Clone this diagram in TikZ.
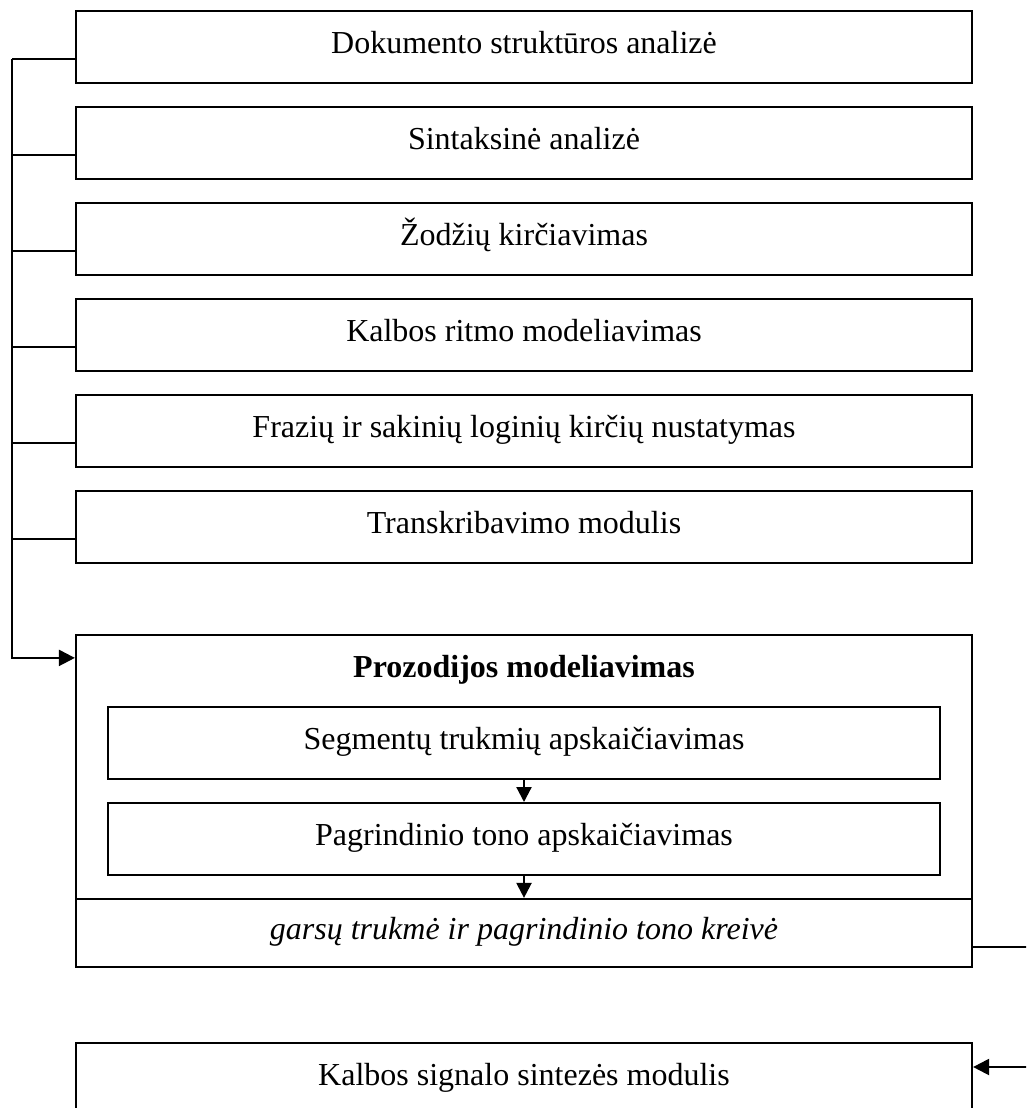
\documentclass[tikz,border=0pt]{standalone}
\usepackage{fontspec}
\setmainfont{Liberation Serif}
\usetikzlibrary{arrows.meta,calc}

\tikzset{
  box/.style={draw, line width=2.2pt, rectangle, inner sep=0pt,
    minimum width=896pt, minimum height=72pt, anchor=center,
    text height=22pt, text depth=10pt,
    font=\fontsize{32}{38}\selectfont},
  inbox/.style={box, line width=2pt, minimum width=832pt},
  wire/.style={draw, line width=2.2pt},
  arr/.style={wire, -{Triangle[length=16pt,width=16pt]}},
  sarr/.style={wire, -{Triangle[length=15pt,width=15pt]}}
}

\begin{document}
\begin{tikzpicture}[x=1pt,y=-1pt]
  \useasboundingbox (0,0) rectangle (1026,1108);
  \clip (0,0) rectangle (1026,1108);

  % preprocessing stages
  \node[box] (b1) at (524,47)  {Dokumento struktūros analizė};
  \node[box] (b2) at (524,143) {Sintaksinė analizė};
  \node[box] (b3) at (524,239) {Žodžių kirčiavimas};
  \node[box] (b4) at (524,335) {Kalbos ritmo modeliavimas};
  \node[box] (b5) at (524,431) {Frazių ir sakinių loginių kirčių nustatymas};
  \node[box] (b6) at (524,527) {Transkribavimo modulis};

  % prosody block
  \node[box, minimum height=264pt] (pros) at (524,767) {};
  \node[font=\fontsize{32}{38}\selectfont\bfseries, text height=22pt, text depth=10pt] (prostitle) at (524,671) {Prozodijos modeliavimas};
  \node[inbox] (seg) at (524,743) {Segmentų trukmių apskaičiavimas};
  \node[inbox] (f0)  at (524,839) {Pagrindinio tono apskaičiavimas};
  \node[box, minimum height=68pt] (out) at (524,933) {\itshape garsų trukmė ir pagrindinio tono kreivė};

  % synthesis
  \node[box] (synth) at (524,1079) {Kalbos signalo sintezės modulis};

  % collecting bus on the left
  \coordinate (bustop) at (12,59);
  \foreach \i in {1,...,6}{
    \coordinate (t\i) at ([yshift=-12pt]b\i.west);
    \draw[wire] (t\i) -- (bustop |- t\i);
  }
  \coordinate (pin) at ([yshift=-24pt]pros.north west);
  \draw[arr] (bustop) |- (pin);

  % inner flow
  \draw[sarr] (seg.south) -- (f0.north);
  \draw[sarr] (f0.south) -- (out.north);

  % return path on the right, its rail lying just past the page edge
  \coordinate (outR) at ([yshift=-14pt]out.east);
  \coordinate (inR) at ([yshift=12pt]synth.east);
  \coordinate (rail) at (1028,0);
  \draw[wire] (outR) -- (rail |- outR) -- (rail |- inR);
  \draw[arr] (rail |- inR) -- (inR);
\end{tikzpicture}
\end{document}
